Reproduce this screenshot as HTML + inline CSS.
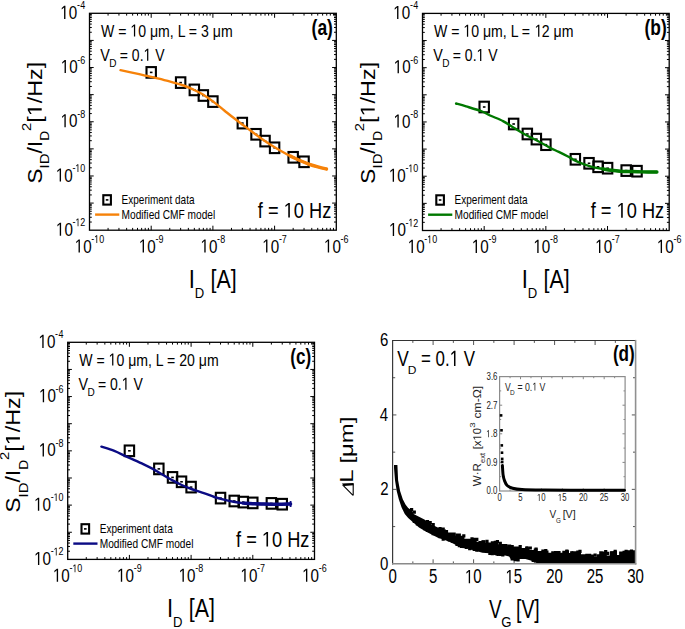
<!DOCTYPE html>
<html><head><meta charset="utf-8"><style>html,body{margin:0;padding:0;background:#fff;overflow:hidden}svg{display:block}</style></head>
<body>
<svg width="685" height="629" viewBox="0 0 685 629" font-family='"Liberation Sans", sans-serif'>
<rect width="685" height="629" fill="#fff"/>
<path d="M108.07 230.2v-2.3M108.07 13.3v2.3M118.94 230.2v-2.3M118.94 13.3v2.3M126.65 230.2v-2.3M126.65 13.3v2.3M132.63 230.2v-2.3M132.63 13.3v2.3M137.51 230.2v-2.3M137.51 13.3v2.3M141.64 230.2v-2.3M141.64 13.3v2.3M145.22 230.2v-2.3M145.22 13.3v2.3M148.38 230.2v-2.3M148.38 13.3v2.3M151.20 230.2v-4.5M151.20 13.3v4.5M169.77 230.2v-2.3M169.77 13.3v2.3M180.64 230.2v-2.3M180.64 13.3v2.3M188.35 230.2v-2.3M188.35 13.3v2.3M194.33 230.2v-2.3M194.33 13.3v2.3M199.21 230.2v-2.3M199.21 13.3v2.3M203.34 230.2v-2.3M203.34 13.3v2.3M206.92 230.2v-2.3M206.92 13.3v2.3M210.08 230.2v-2.3M210.08 13.3v2.3M212.90 230.2v-4.5M212.90 13.3v4.5M231.47 230.2v-2.3M231.47 13.3v2.3M242.34 230.2v-2.3M242.34 13.3v2.3M250.05 230.2v-2.3M250.05 13.3v2.3M256.03 230.2v-2.3M256.03 13.3v2.3M260.91 230.2v-2.3M260.91 13.3v2.3M265.04 230.2v-2.3M265.04 13.3v2.3M268.62 230.2v-2.3M268.62 13.3v2.3M271.78 230.2v-2.3M271.78 13.3v2.3M274.60 230.2v-4.5M274.60 13.3v4.5M293.17 230.2v-2.3M293.17 13.3v2.3M304.04 230.2v-2.3M304.04 13.3v2.3M311.75 230.2v-2.3M311.75 13.3v2.3M317.73 230.2v-2.3M317.73 13.3v2.3M322.61 230.2v-2.3M322.61 13.3v2.3M326.74 230.2v-2.3M326.74 13.3v2.3M330.32 230.2v-2.3M330.32 13.3v2.3M333.48 230.2v-2.3M333.48 13.3v2.3M89.5 222.04h2.3M336.3 222.04h-2.3M89.5 217.26h2.3M336.3 217.26h-2.3M89.5 213.88h2.3M336.3 213.88h-2.3M89.5 211.25h2.3M336.3 211.25h-2.3M89.5 209.10h2.3M336.3 209.10h-2.3M89.5 207.29h2.3M336.3 207.29h-2.3M89.5 205.71h2.3M336.3 205.71h-2.3M89.5 204.33h2.3M336.3 204.33h-2.3M89.5 203.09h4.2M336.3 203.09h-4.2M89.5 194.93h2.3M336.3 194.93h-2.3M89.5 190.15h2.3M336.3 190.15h-2.3M89.5 186.76h2.3M336.3 186.76h-2.3M89.5 184.14h2.3M336.3 184.14h-2.3M89.5 181.99h2.3M336.3 181.99h-2.3M89.5 180.17h2.3M336.3 180.17h-2.3M89.5 178.60h2.3M336.3 178.60h-2.3M89.5 177.22h2.3M336.3 177.22h-2.3M89.5 175.97h4.2M336.3 175.97h-4.2M89.5 167.81h2.3M336.3 167.81h-2.3M89.5 163.04h2.3M336.3 163.04h-2.3M89.5 159.65h2.3M336.3 159.65h-2.3M89.5 157.02h2.3M336.3 157.02h-2.3M89.5 154.88h2.3M336.3 154.88h-2.3M89.5 153.06h2.3M336.3 153.06h-2.3M89.5 151.49h2.3M336.3 151.49h-2.3M89.5 150.10h2.3M336.3 150.10h-2.3M89.5 148.86h4.2M336.3 148.86h-4.2M89.5 140.70h2.3M336.3 140.70h-2.3M89.5 135.93h2.3M336.3 135.93h-2.3M89.5 132.54h2.3M336.3 132.54h-2.3M89.5 129.91h2.3M336.3 129.91h-2.3M89.5 127.76h2.3M336.3 127.76h-2.3M89.5 125.95h2.3M336.3 125.95h-2.3M89.5 124.38h2.3M336.3 124.38h-2.3M89.5 122.99h2.3M336.3 122.99h-2.3M89.5 121.75h4.2M336.3 121.75h-4.2M89.5 113.59h2.3M336.3 113.59h-2.3M89.5 108.81h2.3M336.3 108.81h-2.3M89.5 105.43h2.3M336.3 105.43h-2.3M89.5 102.80h2.3M336.3 102.80h-2.3M89.5 100.65h2.3M336.3 100.65h-2.3M89.5 98.84h2.3M336.3 98.84h-2.3M89.5 97.26h2.3M336.3 97.26h-2.3M89.5 95.88h2.3M336.3 95.88h-2.3M89.5 94.64h4.2M336.3 94.64h-4.2M89.5 86.48h2.3M336.3 86.48h-2.3M89.5 81.70h2.3M336.3 81.70h-2.3M89.5 78.31h2.3M336.3 78.31h-2.3M89.5 75.69h2.3M336.3 75.69h-2.3M89.5 73.54h2.3M336.3 73.54h-2.3M89.5 71.72h2.3M336.3 71.72h-2.3M89.5 70.15h2.3M336.3 70.15h-2.3M89.5 68.77h2.3M336.3 68.77h-2.3M89.5 67.53h4.2M336.3 67.53h-4.2M89.5 59.36h2.3M336.3 59.36h-2.3M89.5 54.59h2.3M336.3 54.59h-2.3M89.5 51.20h2.3M336.3 51.20h-2.3M89.5 48.57h2.3M336.3 48.57h-2.3M89.5 46.43h2.3M336.3 46.43h-2.3M89.5 44.61h2.3M336.3 44.61h-2.3M89.5 43.04h2.3M336.3 43.04h-2.3M89.5 41.65h2.3M336.3 41.65h-2.3M89.5 40.41h4.2M336.3 40.41h-4.2M89.5 32.25h2.3M336.3 32.25h-2.3M89.5 27.48h2.3M336.3 27.48h-2.3M89.5 24.09h2.3M336.3 24.09h-2.3M89.5 21.46h2.3M336.3 21.46h-2.3M89.5 19.31h2.3M336.3 19.31h-2.3M89.5 17.50h2.3M336.3 17.50h-2.3M89.5 15.93h2.3M336.3 15.93h-2.3M89.5 14.54h2.3M336.3 14.54h-2.3" stroke="#000" stroke-width="1" fill="none"/>
<rect x="89.5" y="13.3" width="246.80" height="216.90" fill="none" stroke="#000" stroke-width="1.3"/>
<g transform="translate(60.26,18.90) scale(0.8000,1)"><text font-size="19"> 0</text><path transform="translate(0.00,0) scale(0.00928,-0.00928)" d="M515 0V1237L197 1010V1180L530 1409H696V0Z"/></g>
<g transform="translate(76.88,8.30) scale(0.8000,1)"><text font-size="11.2">-</text></g>
<g transform="translate(80.18,9.30) scale(0.8000,1)"><text font-size="11.2">4</text></g>
<g transform="translate(60.74,73.12) scale(0.8000,1)"><text font-size="19"> 0</text><path transform="translate(0.00,0) scale(0.00928,-0.00928)" d="M515 0V1237L197 1010V1180L530 1409H696V0Z"/></g>
<g transform="translate(77.36,62.52) scale(0.8000,1)"><text font-size="11.2">-</text></g>
<g transform="translate(80.34,63.52) scale(0.8000,1)"><text font-size="11.2">6</text></g>
<g transform="translate(60.58,127.35) scale(0.8000,1)"><text font-size="19"> 0</text><path transform="translate(0.00,0) scale(0.00928,-0.00928)" d="M515 0V1237L197 1010V1180L530 1409H696V0Z"/></g>
<g transform="translate(77.20,116.75) scale(0.8000,1)"><text font-size="11.2">-</text></g>
<g transform="translate(80.26,117.75) scale(0.8000,1)"><text font-size="11.2">8</text></g>
<g transform="translate(55.86,181.57) scale(0.8000,1)"><text font-size="19"> 0</text><path transform="translate(0.00,0) scale(0.00928,-0.00928)" d="M515 0V1237L197 1010V1180L530 1409H696V0Z"/></g>
<g transform="translate(72.48,170.97) scale(0.8000,1)"><text font-size="11.2">-</text></g>
<g transform="translate(75.30,171.97) scale(0.8000,1)"><text font-size="11.2"> 0</text><path transform="translate(0.00,0) scale(0.00547,-0.00547)" d="M515 0V1237L197 1010V1180L530 1409H696V0Z"/></g>
<g transform="translate(55.94,235.80) scale(0.8000,1)"><text font-size="19"> 0</text><path transform="translate(0.00,0) scale(0.00928,-0.00928)" d="M515 0V1237L197 1010V1180L530 1409H696V0Z"/></g>
<g transform="translate(72.56,225.20) scale(0.8000,1)"><text font-size="11.2">-</text></g>
<g transform="translate(75.38,226.20) scale(0.8000,1)"><text font-size="11.2"> 2</text><path transform="translate(0.00,0) scale(0.00547,-0.00547)" d="M515 0V1237L197 1010V1180L530 1409H696V0Z"/></g>
<g transform="translate(74.72,252.60) scale(0.8000,1)"><text font-size="19"> 0</text><path transform="translate(0.00,0) scale(0.00928,-0.00928)" d="M515 0V1237L197 1010V1180L530 1409H696V0Z"/></g>
<g transform="translate(91.34,242.00) scale(0.8000,1)"><text font-size="11.2">-</text></g>
<g transform="translate(94.16,243.00) scale(0.8000,1)"><text font-size="11.2"> 0</text><path transform="translate(0.00,0) scale(0.00547,-0.00547)" d="M515 0V1237L197 1010V1180L530 1409H696V0Z"/></g>
<g transform="translate(138.82,252.60) scale(0.8000,1)"><text font-size="19"> 0</text><path transform="translate(0.00,0) scale(0.00928,-0.00928)" d="M515 0V1237L197 1010V1180L530 1409H696V0Z"/></g>
<g transform="translate(155.44,242.00) scale(0.8000,1)"><text font-size="11.2">-</text></g>
<g transform="translate(158.50,243.00) scale(0.8000,1)"><text font-size="11.2">9</text></g>
<g transform="translate(200.48,252.60) scale(0.8000,1)"><text font-size="19"> 0</text><path transform="translate(0.00,0) scale(0.00928,-0.00928)" d="M515 0V1237L197 1010V1180L530 1409H696V0Z"/></g>
<g transform="translate(217.10,242.00) scale(0.8000,1)"><text font-size="11.2">-</text></g>
<g transform="translate(220.16,243.00) scale(0.8000,1)"><text font-size="11.2">8</text></g>
<g transform="translate(262.26,252.60) scale(0.8000,1)"><text font-size="19"> 0</text><path transform="translate(0.00,0) scale(0.00928,-0.00928)" d="M515 0V1237L197 1010V1180L530 1409H696V0Z"/></g>
<g transform="translate(278.88,242.00) scale(0.8000,1)"><text font-size="11.2">-</text></g>
<g transform="translate(281.86,243.00) scale(0.8000,1)"><text font-size="11.2">7</text></g>
<g transform="translate(323.96,252.60) scale(0.8000,1)"><text font-size="19"> 0</text><path transform="translate(0.00,0) scale(0.00928,-0.00928)" d="M515 0V1237L197 1010V1180L530 1409H696V0Z"/></g>
<g transform="translate(340.58,242.00) scale(0.8000,1)"><text font-size="11.2">-</text></g>
<g transform="translate(343.56,243.00) scale(0.8000,1)"><text font-size="11.2">6</text></g>
<g transform="translate(41.70,182.50) rotate(-90) scale(0.9627,0.8700) translate(-1.10,0)"><text font-size="23.3">S</text></g>
<g transform="translate(49.40,167.00) rotate(-90) scale(1.0750,0.8700) translate(-1.30,0)"><text font-size="13.9">ID</text></g>
<g transform="translate(41.70,153.60) rotate(-90) scale(0.9907,0.8700) translate(-0.00,0)"><text font-size="23.3">/I</text></g>
<g transform="translate(49.40,139.60) rotate(-90) scale(0.9880,0.8700) translate(-1.10,0)"><text font-size="13.9">D</text></g>
<g transform="translate(30.80,130.30) rotate(-90) scale(1.0469,0.8700) translate(-0.70,0)"><text font-size="14.0">2</text></g>
<g transform="translate(41.70,121.10) rotate(-90) scale(1.0035,0.8700) translate(-1.70,0)"><text font-size="23.3">[ /Hz]</text><path transform="translate(6.47,0) scale(0.01138,-0.01138)" d="M515 0V1237L197 1010V1180L530 1409H696V0Z"/></g>
<g transform="translate(188.86,287.90) scale(0.8500,1)"><text font-size="25.9">I</text></g>
<g transform="translate(194.77,297.70) scale(0.8571,1)"><text font-size="15.3">D</text></g>
<g transform="translate(210.51,287.90) scale(0.8256,1)"><text font-size="25.9">[A]</text></g>
<g transform="translate(101.02,36.60) scale(0.8100,1)"><text font-size="17.4">W =  0 μm, L = 3 μm</text><path transform="translate(36.25,0) scale(0.00850,-0.00850)" d="M515 0V1237L197 1010V1180L530 1409H696V0Z"/></g>
<g transform="translate(100.32,60.60) scale(0.8246,1)"><text font-size="17.4">V</text></g>
<g transform="translate(109.21,67.20) scale(0.9836,1)"><text font-size="10.2">D</text></g>
<g transform="translate(119.76,60.80) scale(0.8062,1)"><text font-size="17.4">= 0.  V</text><path transform="translate(29.51,0) scale(0.00850,-0.00850)" d="M515 0V1237L197 1010V1180L530 1409H696V0Z"/></g>
<g transform="translate(311.58,35.20) scale(0.8243,1)"><text font-size="21.2" font-weight="bold">(a)</text></g>
<g transform="translate(257.84,217.60) scale(0.8556,1)"><text font-size="21.3">f =  0 Hz</text><path transform="translate(30.19,0) scale(0.01040,-0.01040)" d="M515 0V1237L197 1010V1180L530 1409H696V0Z"/></g>
<rect x="103.30" y="195.20" width="7.6" height="9.4" fill="none" stroke="#000" stroke-width="2.1"/>
<rect x="105.80" y="199.10" width="2.6" height="1.6" fill="#000"/>
<g transform="translate(121.56,203.90) scale(0.8356,1)"><text font-size="12.0">Experiment data</text></g>
<line x1="95.10" y1="214.60" x2="119.30" y2="214.60" stroke="#F68209" stroke-width="2.4"/>
<g transform="translate(121.55,218.50) scale(0.8466,1)"><text font-size="12.0">Modified CMF model</text></g>
<rect x="146.50" y="67.10" width="9.4" height="10.6" fill="none" stroke="#000" stroke-width="2.1"/>
<rect x="149.90" y="71.60" width="2.6" height="1.6" fill="#000"/>
<rect x="175.94" y="77.30" width="9.4" height="10.6" fill="none" stroke="#000" stroke-width="2.1"/>
<rect x="179.34" y="81.80" width="2.6" height="1.6" fill="#000"/>
<rect x="189.63" y="84.60" width="9.4" height="10.6" fill="none" stroke="#000" stroke-width="2.1"/>
<rect x="193.03" y="89.10" width="2.6" height="1.6" fill="#000"/>
<rect x="198.64" y="90.20" width="9.4" height="10.6" fill="none" stroke="#000" stroke-width="2.1"/>
<rect x="202.04" y="94.70" width="2.6" height="1.6" fill="#000"/>
<rect x="208.20" y="96.30" width="9.4" height="10.6" fill="none" stroke="#000" stroke-width="2.1"/>
<rect x="211.60" y="100.80" width="2.6" height="1.6" fill="#000"/>
<rect x="237.64" y="117.80" width="9.4" height="10.6" fill="none" stroke="#000" stroke-width="2.1"/>
<rect x="241.04" y="122.30" width="2.6" height="1.6" fill="#000"/>
<rect x="251.33" y="129.00" width="9.4" height="10.6" fill="none" stroke="#000" stroke-width="2.1"/>
<rect x="254.73" y="133.50" width="2.6" height="1.6" fill="#000"/>
<rect x="260.34" y="135.80" width="9.4" height="10.6" fill="none" stroke="#000" stroke-width="2.1"/>
<rect x="263.74" y="140.30" width="2.6" height="1.6" fill="#000"/>
<rect x="269.90" y="142.50" width="9.4" height="10.6" fill="none" stroke="#000" stroke-width="2.1"/>
<rect x="273.30" y="147.00" width="2.6" height="1.6" fill="#000"/>
<rect x="288.47" y="152.00" width="9.4" height="10.6" fill="none" stroke="#000" stroke-width="2.1"/>
<rect x="291.87" y="156.50" width="2.6" height="1.6" fill="#000"/>
<rect x="299.34" y="156.50" width="9.4" height="10.6" fill="none" stroke="#000" stroke-width="2.1"/>
<rect x="302.74" y="161.00" width="2.6" height="1.6" fill="#000"/>
<path d="M120.50 70.20 C122.02 70.52 125.65 71.25 129.60 72.10 C133.55 72.95 139.33 74.20 144.20 75.30 C149.07 76.40 153.93 77.48 158.80 78.70 C163.67 79.92 169.27 81.47 173.40 82.60 C177.53 83.73 180.43 84.40 183.60 85.50 C186.77 86.60 189.23 87.73 192.40 89.20 C195.57 90.67 198.92 92.07 202.60 94.30 C206.28 96.53 210.93 99.95 214.50 102.60 C218.07 105.25 220.83 107.67 224.00 110.20 C227.17 112.73 230.33 115.33 233.50 117.80 C236.67 120.27 239.85 122.63 243.00 125.00 C246.15 127.37 249.23 129.67 252.40 132.00 C255.57 134.33 258.83 136.78 262.00 139.00 C265.17 141.22 268.23 143.30 271.40 145.30 C274.57 147.30 277.83 149.20 281.00 151.00 C284.17 152.80 287.25 154.52 290.40 156.10 C293.55 157.68 296.73 159.13 299.90 160.50 C303.07 161.87 306.23 163.20 309.40 164.30 C312.57 165.40 316.05 166.32 318.90 167.10 C321.75 167.88 325.23 168.68 326.50 169.00" fill="none" stroke="#F68209" stroke-width="2.4" stroke-linejoin="round" stroke-linecap="round"/>
<path d="M290.40 156.10 C291.98 156.83 296.73 159.13 299.90 160.50 C303.07 161.87 306.23 163.20 309.40 164.30 C312.57 165.40 316.05 166.32 318.90 167.10 C321.75 167.88 325.23 168.68 326.50 169.00" fill="none" stroke="#F68209" stroke-width="3.4" stroke-linejoin="round" stroke-linecap="round"/>
<path d="M441.07 230.5v-2.3M441.07 13.4v2.3M451.93 230.5v-2.3M451.93 13.4v2.3M459.63 230.5v-2.3M459.63 13.4v2.3M465.61 230.5v-2.3M465.61 13.4v2.3M470.49 230.5v-2.3M470.49 13.4v2.3M474.62 230.5v-2.3M474.62 13.4v2.3M478.20 230.5v-2.3M478.20 13.4v2.3M481.35 230.5v-2.3M481.35 13.4v2.3M484.18 230.5v-4.5M484.18 13.4v4.5M502.74 230.5v-2.3M502.74 13.4v2.3M513.60 230.5v-2.3M513.60 13.4v2.3M521.31 230.5v-2.3M521.31 13.4v2.3M527.28 230.5v-2.3M527.28 13.4v2.3M532.17 230.5v-2.3M532.17 13.4v2.3M536.30 230.5v-2.3M536.30 13.4v2.3M539.87 230.5v-2.3M539.87 13.4v2.3M543.03 230.5v-2.3M543.03 13.4v2.3M545.85 230.5v-4.5M545.85 13.4v4.5M564.42 230.5v-2.3M564.42 13.4v2.3M575.28 230.5v-2.3M575.28 13.4v2.3M582.98 230.5v-2.3M582.98 13.4v2.3M588.96 230.5v-2.3M588.96 13.4v2.3M593.84 230.5v-2.3M593.84 13.4v2.3M597.97 230.5v-2.3M597.97 13.4v2.3M601.55 230.5v-2.3M601.55 13.4v2.3M604.70 230.5v-2.3M604.70 13.4v2.3M607.53 230.5v-4.5M607.53 13.4v4.5M626.09 230.5v-2.3M626.09 13.4v2.3M636.95 230.5v-2.3M636.95 13.4v2.3M644.66 230.5v-2.3M644.66 13.4v2.3M650.63 230.5v-2.3M650.63 13.4v2.3M655.52 230.5v-2.3M655.52 13.4v2.3M659.65 230.5v-2.3M659.65 13.4v2.3M663.22 230.5v-2.3M663.22 13.4v2.3M666.38 230.5v-2.3M666.38 13.4v2.3M422.5 222.33h2.3M669.2 222.33h-2.3M422.5 217.55h2.3M669.2 217.55h-2.3M422.5 214.16h2.3M669.2 214.16h-2.3M422.5 211.53h2.3M669.2 211.53h-2.3M422.5 209.38h2.3M669.2 209.38h-2.3M422.5 207.57h2.3M669.2 207.57h-2.3M422.5 205.99h2.3M669.2 205.99h-2.3M422.5 204.60h2.3M669.2 204.60h-2.3M422.5 203.36h4.2M669.2 203.36h-4.2M422.5 195.19h2.3M669.2 195.19h-2.3M422.5 190.41h2.3M669.2 190.41h-2.3M422.5 187.02h2.3M669.2 187.02h-2.3M422.5 184.39h2.3M669.2 184.39h-2.3M422.5 182.25h2.3M669.2 182.25h-2.3M422.5 180.43h2.3M669.2 180.43h-2.3M422.5 178.85h2.3M669.2 178.85h-2.3M422.5 177.47h2.3M669.2 177.47h-2.3M422.5 176.22h4.2M669.2 176.22h-4.2M422.5 168.06h2.3M669.2 168.06h-2.3M422.5 163.28h2.3M669.2 163.28h-2.3M422.5 159.89h2.3M669.2 159.89h-2.3M422.5 157.26h2.3M669.2 157.26h-2.3M422.5 155.11h2.3M669.2 155.11h-2.3M422.5 153.29h2.3M669.2 153.29h-2.3M422.5 151.72h2.3M669.2 151.72h-2.3M422.5 150.33h2.3M669.2 150.33h-2.3M422.5 149.09h4.2M669.2 149.09h-4.2M422.5 140.92h2.3M669.2 140.92h-2.3M422.5 136.14h2.3M669.2 136.14h-2.3M422.5 132.75h2.3M669.2 132.75h-2.3M422.5 130.12h2.3M669.2 130.12h-2.3M422.5 127.97h2.3M669.2 127.97h-2.3M422.5 126.15h2.3M669.2 126.15h-2.3M422.5 124.58h2.3M669.2 124.58h-2.3M422.5 123.19h2.3M669.2 123.19h-2.3M422.5 121.95h4.2M669.2 121.95h-4.2M422.5 113.78h2.3M669.2 113.78h-2.3M422.5 109.00h2.3M669.2 109.00h-2.3M422.5 105.61h2.3M669.2 105.61h-2.3M422.5 102.98h2.3M669.2 102.98h-2.3M422.5 100.83h2.3M669.2 100.83h-2.3M422.5 99.02h2.3M669.2 99.02h-2.3M422.5 97.44h2.3M669.2 97.44h-2.3M422.5 96.05h2.3M669.2 96.05h-2.3M422.5 94.81h4.2M669.2 94.81h-4.2M422.5 86.64h2.3M669.2 86.64h-2.3M422.5 81.86h2.3M669.2 81.86h-2.3M422.5 78.47h2.3M669.2 78.47h-2.3M422.5 75.84h2.3M669.2 75.84h-2.3M422.5 73.70h2.3M669.2 73.70h-2.3M422.5 71.88h2.3M669.2 71.88h-2.3M422.5 70.30h2.3M669.2 70.30h-2.3M422.5 68.92h2.3M669.2 68.92h-2.3M422.5 67.68h4.2M669.2 67.68h-4.2M422.5 59.51h2.3M669.2 59.51h-2.3M422.5 54.73h2.3M669.2 54.73h-2.3M422.5 51.34h2.3M669.2 51.34h-2.3M422.5 48.71h2.3M669.2 48.71h-2.3M422.5 46.56h2.3M669.2 46.56h-2.3M422.5 44.74h2.3M669.2 44.74h-2.3M422.5 43.17h2.3M669.2 43.17h-2.3M422.5 41.78h2.3M669.2 41.78h-2.3M422.5 40.54h4.2M669.2 40.54h-4.2M422.5 32.37h2.3M669.2 32.37h-2.3M422.5 27.59h2.3M669.2 27.59h-2.3M422.5 24.20h2.3M669.2 24.20h-2.3M422.5 21.57h2.3M669.2 21.57h-2.3M422.5 19.42h2.3M669.2 19.42h-2.3M422.5 17.60h2.3M669.2 17.60h-2.3M422.5 16.03h2.3M669.2 16.03h-2.3M422.5 14.64h2.3M669.2 14.64h-2.3" stroke="#000" stroke-width="1" fill="none"/>
<rect x="422.5" y="13.4" width="246.70" height="217.10" fill="none" stroke="#000" stroke-width="1.3"/>
<g transform="translate(393.26,19.00) scale(0.8000,1)"><text font-size="19"> 0</text><path transform="translate(0.00,0) scale(0.00928,-0.00928)" d="M515 0V1237L197 1010V1180L530 1409H696V0Z"/></g>
<g transform="translate(409.88,8.40) scale(0.8000,1)"><text font-size="11.2">-</text></g>
<g transform="translate(413.18,9.40) scale(0.8000,1)"><text font-size="11.2">4</text></g>
<g transform="translate(393.74,73.27) scale(0.8000,1)"><text font-size="19"> 0</text><path transform="translate(0.00,0) scale(0.00928,-0.00928)" d="M515 0V1237L197 1010V1180L530 1409H696V0Z"/></g>
<g transform="translate(410.36,62.67) scale(0.8000,1)"><text font-size="11.2">-</text></g>
<g transform="translate(413.34,63.67) scale(0.8000,1)"><text font-size="11.2">6</text></g>
<g transform="translate(393.58,127.55) scale(0.8000,1)"><text font-size="19"> 0</text><path transform="translate(0.00,0) scale(0.00928,-0.00928)" d="M515 0V1237L197 1010V1180L530 1409H696V0Z"/></g>
<g transform="translate(410.20,116.95) scale(0.8000,1)"><text font-size="11.2">-</text></g>
<g transform="translate(413.26,117.95) scale(0.8000,1)"><text font-size="11.2">8</text></g>
<g transform="translate(388.86,181.82) scale(0.8000,1)"><text font-size="19"> 0</text><path transform="translate(0.00,0) scale(0.00928,-0.00928)" d="M515 0V1237L197 1010V1180L530 1409H696V0Z"/></g>
<g transform="translate(405.48,171.22) scale(0.8000,1)"><text font-size="11.2">-</text></g>
<g transform="translate(408.30,172.22) scale(0.8000,1)"><text font-size="11.2"> 0</text><path transform="translate(0.00,0) scale(0.00547,-0.00547)" d="M515 0V1237L197 1010V1180L530 1409H696V0Z"/></g>
<g transform="translate(388.94,236.10) scale(0.8000,1)"><text font-size="19"> 0</text><path transform="translate(0.00,0) scale(0.00928,-0.00928)" d="M515 0V1237L197 1010V1180L530 1409H696V0Z"/></g>
<g transform="translate(405.56,225.50) scale(0.8000,1)"><text font-size="11.2">-</text></g>
<g transform="translate(408.38,226.50) scale(0.8000,1)"><text font-size="11.2"> 2</text><path transform="translate(0.00,0) scale(0.00547,-0.00547)" d="M515 0V1237L197 1010V1180L530 1409H696V0Z"/></g>
<g transform="translate(407.72,252.90) scale(0.8000,1)"><text font-size="19"> 0</text><path transform="translate(0.00,0) scale(0.00928,-0.00928)" d="M515 0V1237L197 1010V1180L530 1409H696V0Z"/></g>
<g transform="translate(424.34,242.30) scale(0.8000,1)"><text font-size="11.2">-</text></g>
<g transform="translate(427.16,243.30) scale(0.8000,1)"><text font-size="11.2"> 0</text><path transform="translate(0.00,0) scale(0.00547,-0.00547)" d="M515 0V1237L197 1010V1180L530 1409H696V0Z"/></g>
<g transform="translate(471.80,252.90) scale(0.8000,1)"><text font-size="19"> 0</text><path transform="translate(0.00,0) scale(0.00928,-0.00928)" d="M515 0V1237L197 1010V1180L530 1409H696V0Z"/></g>
<g transform="translate(488.42,242.30) scale(0.8000,1)"><text font-size="11.2">-</text></g>
<g transform="translate(491.48,243.30) scale(0.8000,1)"><text font-size="11.2">9</text></g>
<g transform="translate(533.43,252.90) scale(0.8000,1)"><text font-size="19"> 0</text><path transform="translate(0.00,0) scale(0.00928,-0.00928)" d="M515 0V1237L197 1010V1180L530 1409H696V0Z"/></g>
<g transform="translate(550.05,242.30) scale(0.8000,1)"><text font-size="11.2">-</text></g>
<g transform="translate(553.11,243.30) scale(0.8000,1)"><text font-size="11.2">8</text></g>
<g transform="translate(595.19,252.90) scale(0.8000,1)"><text font-size="19"> 0</text><path transform="translate(0.00,0) scale(0.00928,-0.00928)" d="M515 0V1237L197 1010V1180L530 1409H696V0Z"/></g>
<g transform="translate(611.81,242.30) scale(0.8000,1)"><text font-size="11.2">-</text></g>
<g transform="translate(614.79,243.30) scale(0.8000,1)"><text font-size="11.2">7</text></g>
<g transform="translate(656.86,252.90) scale(0.8000,1)"><text font-size="19"> 0</text><path transform="translate(0.00,0) scale(0.00928,-0.00928)" d="M515 0V1237L197 1010V1180L530 1409H696V0Z"/></g>
<g transform="translate(673.48,242.30) scale(0.8000,1)"><text font-size="11.2">-</text></g>
<g transform="translate(676.46,243.30) scale(0.8000,1)"><text font-size="11.2">6</text></g>
<g transform="translate(374.70,182.60) rotate(-90) scale(0.9627,0.8700) translate(-1.10,0)"><text font-size="23.3">S</text></g>
<g transform="translate(382.40,167.10) rotate(-90) scale(1.0750,0.8700) translate(-1.30,0)"><text font-size="13.9">ID</text></g>
<g transform="translate(374.70,153.70) rotate(-90) scale(0.9907,0.8700) translate(-0.00,0)"><text font-size="23.3">/I</text></g>
<g transform="translate(382.40,139.70) rotate(-90) scale(0.9880,0.8700) translate(-1.10,0)"><text font-size="13.9">D</text></g>
<g transform="translate(363.80,130.40) rotate(-90) scale(1.0469,0.8700) translate(-0.70,0)"><text font-size="14.0">2</text></g>
<g transform="translate(374.70,121.20) rotate(-90) scale(1.0035,0.8700) translate(-1.70,0)"><text font-size="23.3">[ /Hz]</text><path transform="translate(6.47,0) scale(0.01138,-0.01138)" d="M515 0V1237L197 1010V1180L530 1409H696V0Z"/></g>
<g transform="translate(521.86,288.00) scale(0.8500,1)"><text font-size="25.9">I</text></g>
<g transform="translate(527.77,297.80) scale(0.8571,1)"><text font-size="15.3">D</text></g>
<g transform="translate(543.51,288.00) scale(0.8256,1)"><text font-size="25.9">[A]</text></g>
<g transform="translate(434.02,36.70) scale(0.8100,1)"><text font-size="17.4">W =  0 μm, L =  2 μm</text><path transform="translate(36.25,0) scale(0.00850,-0.00850)" d="M515 0V1237L197 1010V1180L530 1409H696V0Z"/><path transform="translate(124.14,0) scale(0.00850,-0.00850)" d="M515 0V1237L197 1010V1180L530 1409H696V0Z"/></g>
<g transform="translate(433.32,60.70) scale(0.8246,1)"><text font-size="17.4">V</text></g>
<g transform="translate(442.21,67.30) scale(0.9836,1)"><text font-size="10.2">D</text></g>
<g transform="translate(452.76,60.90) scale(0.8062,1)"><text font-size="17.4">= 0.  V</text><path transform="translate(29.51,0) scale(0.00850,-0.00850)" d="M515 0V1237L197 1010V1180L530 1409H696V0Z"/></g>
<g transform="translate(644.48,35.30) scale(0.8200,1)"><text font-size="21.2" font-weight="bold">(b)</text></g>
<g transform="translate(590.74,217.70) scale(0.8556,1)"><text font-size="21.3">f =  0 Hz</text><path transform="translate(30.19,0) scale(0.01040,-0.01040)" d="M515 0V1237L197 1010V1180L530 1409H696V0Z"/></g>
<rect x="436.30" y="195.30" width="7.6" height="9.4" fill="none" stroke="#000" stroke-width="2.1"/>
<rect x="438.80" y="199.20" width="2.6" height="1.6" fill="#000"/>
<g transform="translate(454.56,204.00) scale(0.8356,1)"><text font-size="12.0">Experiment data</text></g>
<line x1="428.10" y1="214.70" x2="452.30" y2="214.70" stroke="#007800" stroke-width="2.4"/>
<g transform="translate(454.55,218.60) scale(0.8466,1)"><text font-size="12.0">Modified CMF model</text></g>
<rect x="479.50" y="101.70" width="9.4" height="10.6" fill="none" stroke="#000" stroke-width="2.1"/>
<rect x="482.90" y="106.20" width="2.6" height="1.6" fill="#000"/>
<rect x="508.94" y="118.70" width="9.4" height="10.6" fill="none" stroke="#000" stroke-width="2.1"/>
<rect x="512.34" y="123.20" width="2.6" height="1.6" fill="#000"/>
<rect x="522.63" y="128.70" width="9.4" height="10.6" fill="none" stroke="#000" stroke-width="2.1"/>
<rect x="526.03" y="133.20" width="2.6" height="1.6" fill="#000"/>
<rect x="531.64" y="133.80" width="9.4" height="10.6" fill="none" stroke="#000" stroke-width="2.1"/>
<rect x="535.04" y="138.30" width="2.6" height="1.6" fill="#000"/>
<rect x="541.20" y="139.40" width="9.4" height="10.6" fill="none" stroke="#000" stroke-width="2.1"/>
<rect x="544.60" y="143.90" width="2.6" height="1.6" fill="#000"/>
<rect x="570.64" y="154.00" width="9.4" height="10.6" fill="none" stroke="#000" stroke-width="2.1"/>
<rect x="574.04" y="158.50" width="2.6" height="1.6" fill="#000"/>
<rect x="584.33" y="158.00" width="9.4" height="10.6" fill="none" stroke="#000" stroke-width="2.1"/>
<rect x="587.73" y="162.50" width="2.6" height="1.6" fill="#000"/>
<rect x="593.34" y="161.50" width="9.4" height="10.6" fill="none" stroke="#000" stroke-width="2.1"/>
<rect x="596.74" y="166.00" width="2.6" height="1.6" fill="#000"/>
<rect x="602.90" y="162.90" width="9.4" height="10.6" fill="none" stroke="#000" stroke-width="2.1"/>
<rect x="606.30" y="167.40" width="2.6" height="1.6" fill="#000"/>
<rect x="621.47" y="165.30" width="9.4" height="10.6" fill="none" stroke="#000" stroke-width="2.1"/>
<rect x="624.87" y="169.80" width="2.6" height="1.6" fill="#000"/>
<rect x="632.34" y="165.90" width="9.4" height="10.6" fill="none" stroke="#000" stroke-width="2.1"/>
<rect x="635.74" y="170.40" width="2.6" height="1.6" fill="#000"/>
<path d="M456.10 103.50 C457.77 103.98 461.77 105.07 466.10 106.40 C470.43 107.73 478.10 109.98 482.10 111.50 C486.10 113.02 486.62 113.90 490.10 115.50 C493.58 117.10 498.98 119.02 503.00 121.10 C507.02 123.18 510.45 125.72 514.20 128.00 C517.95 130.28 521.48 132.60 525.50 134.80 C529.52 137.00 534.28 139.07 538.30 141.20 C542.32 143.33 546.18 145.82 549.60 147.60 C553.02 149.38 555.82 150.45 558.80 151.90 C561.78 153.35 564.58 154.75 567.50 156.30 C570.42 157.85 573.38 159.80 576.30 161.20 C579.22 162.60 582.08 163.68 585.00 164.70 C587.92 165.72 590.87 166.60 593.80 167.30 C596.73 168.00 599.68 168.40 602.60 168.90 C605.52 169.40 608.38 169.92 611.30 170.30 C614.22 170.68 617.18 171.00 620.10 171.20 C623.02 171.40 625.88 171.42 628.80 171.50 C631.72 171.58 634.38 171.62 637.60 171.70 C640.82 171.78 644.88 171.95 648.10 172.00 C651.32 172.05 655.43 172.00 656.90 172.00" fill="none" stroke="#007800" stroke-width="2.4" stroke-linejoin="round" stroke-linecap="round"/>
<path d="M602.60 168.90 C604.05 169.13 608.38 169.92 611.30 170.30 C614.22 170.68 617.18 171.00 620.10 171.20 C623.02 171.40 625.88 171.42 628.80 171.50 C631.72 171.58 634.38 171.62 637.60 171.70 C640.82 171.78 644.88 171.95 648.10 172.00 C651.32 172.05 655.43 172.00 656.90 172.00" fill="none" stroke="#007800" stroke-width="3.4" stroke-linejoin="round" stroke-linecap="round"/>
<path d="M86.27 559.4v-2.3M86.27 342.3v2.3M97.14 559.4v-2.3M97.14 342.3v2.3M104.85 559.4v-2.3M104.85 342.3v2.3M110.83 559.4v-2.3M110.83 342.3v2.3M115.71 559.4v-2.3M115.71 342.3v2.3M119.84 559.4v-2.3M119.84 342.3v2.3M123.42 559.4v-2.3M123.42 342.3v2.3M126.58 559.4v-2.3M126.58 342.3v2.3M129.40 559.4v-4.5M129.40 342.3v4.5M147.97 559.4v-2.3M147.97 342.3v2.3M158.84 559.4v-2.3M158.84 342.3v2.3M166.55 559.4v-2.3M166.55 342.3v2.3M172.53 559.4v-2.3M172.53 342.3v2.3M177.41 559.4v-2.3M177.41 342.3v2.3M181.54 559.4v-2.3M181.54 342.3v2.3M185.12 559.4v-2.3M185.12 342.3v2.3M188.28 559.4v-2.3M188.28 342.3v2.3M191.10 559.4v-4.5M191.10 342.3v4.5M209.67 559.4v-2.3M209.67 342.3v2.3M220.54 559.4v-2.3M220.54 342.3v2.3M228.25 559.4v-2.3M228.25 342.3v2.3M234.23 559.4v-2.3M234.23 342.3v2.3M239.11 559.4v-2.3M239.11 342.3v2.3M243.24 559.4v-2.3M243.24 342.3v2.3M246.82 559.4v-2.3M246.82 342.3v2.3M249.98 559.4v-2.3M249.98 342.3v2.3M252.80 559.4v-4.5M252.80 342.3v4.5M271.37 559.4v-2.3M271.37 342.3v2.3M282.24 559.4v-2.3M282.24 342.3v2.3M289.95 559.4v-2.3M289.95 342.3v2.3M295.93 559.4v-2.3M295.93 342.3v2.3M300.81 559.4v-2.3M300.81 342.3v2.3M304.94 559.4v-2.3M304.94 342.3v2.3M308.52 559.4v-2.3M308.52 342.3v2.3M311.68 559.4v-2.3M311.68 342.3v2.3M67.7 551.23h2.3M314.5 551.23h-2.3M67.7 546.45h2.3M314.5 546.45h-2.3M67.7 543.06h2.3M314.5 543.06h-2.3M67.7 540.43h2.3M314.5 540.43h-2.3M67.7 538.28h2.3M314.5 538.28h-2.3M67.7 536.47h2.3M314.5 536.47h-2.3M67.7 534.89h2.3M314.5 534.89h-2.3M67.7 533.50h2.3M314.5 533.50h-2.3M67.7 532.26h4.2M314.5 532.26h-4.2M67.7 524.09h2.3M314.5 524.09h-2.3M67.7 519.31h2.3M314.5 519.31h-2.3M67.7 515.92h2.3M314.5 515.92h-2.3M67.7 513.29h2.3M314.5 513.29h-2.3M67.7 511.15h2.3M314.5 511.15h-2.3M67.7 509.33h2.3M314.5 509.33h-2.3M67.7 507.75h2.3M314.5 507.75h-2.3M67.7 506.37h2.3M314.5 506.37h-2.3M67.7 505.12h4.2M314.5 505.12h-4.2M67.7 496.96h2.3M314.5 496.96h-2.3M67.7 492.18h2.3M314.5 492.18h-2.3M67.7 488.79h2.3M314.5 488.79h-2.3M67.7 486.16h2.3M314.5 486.16h-2.3M67.7 484.01h2.3M314.5 484.01h-2.3M67.7 482.19h2.3M314.5 482.19h-2.3M67.7 480.62h2.3M314.5 480.62h-2.3M67.7 479.23h2.3M314.5 479.23h-2.3M67.7 477.99h4.2M314.5 477.99h-4.2M67.7 469.82h2.3M314.5 469.82h-2.3M67.7 465.04h2.3M314.5 465.04h-2.3M67.7 461.65h2.3M314.5 461.65h-2.3M67.7 459.02h2.3M314.5 459.02h-2.3M67.7 456.87h2.3M314.5 456.87h-2.3M67.7 455.05h2.3M314.5 455.05h-2.3M67.7 453.48h2.3M314.5 453.48h-2.3M67.7 452.09h2.3M314.5 452.09h-2.3M67.7 450.85h4.2M314.5 450.85h-4.2M67.7 442.68h2.3M314.5 442.68h-2.3M67.7 437.90h2.3M314.5 437.90h-2.3M67.7 434.51h2.3M314.5 434.51h-2.3M67.7 431.88h2.3M314.5 431.88h-2.3M67.7 429.73h2.3M314.5 429.73h-2.3M67.7 427.92h2.3M314.5 427.92h-2.3M67.7 426.34h2.3M314.5 426.34h-2.3M67.7 424.95h2.3M314.5 424.95h-2.3M67.7 423.71h4.2M314.5 423.71h-4.2M67.7 415.54h2.3M314.5 415.54h-2.3M67.7 410.76h2.3M314.5 410.76h-2.3M67.7 407.37h2.3M314.5 407.37h-2.3M67.7 404.74h2.3M314.5 404.74h-2.3M67.7 402.60h2.3M314.5 402.60h-2.3M67.7 400.78h2.3M314.5 400.78h-2.3M67.7 399.20h2.3M314.5 399.20h-2.3M67.7 397.82h2.3M314.5 397.82h-2.3M67.7 396.57h4.2M314.5 396.57h-4.2M67.7 388.41h2.3M314.5 388.41h-2.3M67.7 383.63h2.3M314.5 383.63h-2.3M67.7 380.24h2.3M314.5 380.24h-2.3M67.7 377.61h2.3M314.5 377.61h-2.3M67.7 375.46h2.3M314.5 375.46h-2.3M67.7 373.64h2.3M314.5 373.64h-2.3M67.7 372.07h2.3M314.5 372.07h-2.3M67.7 370.68h2.3M314.5 370.68h-2.3M67.7 369.44h4.2M314.5 369.44h-4.2M67.7 361.27h2.3M314.5 361.27h-2.3M67.7 356.49h2.3M314.5 356.49h-2.3M67.7 353.10h2.3M314.5 353.10h-2.3M67.7 350.47h2.3M314.5 350.47h-2.3M67.7 348.32h2.3M314.5 348.32h-2.3M67.7 346.50h2.3M314.5 346.50h-2.3M67.7 344.93h2.3M314.5 344.93h-2.3M67.7 343.54h2.3M314.5 343.54h-2.3" stroke="#000" stroke-width="1" fill="none"/>
<rect x="67.7" y="342.3" width="246.80" height="217.10" fill="none" stroke="#000" stroke-width="1.3"/>
<g transform="translate(38.46,347.90) scale(0.8000,1)"><text font-size="19"> 0</text><path transform="translate(0.00,0) scale(0.00928,-0.00928)" d="M515 0V1237L197 1010V1180L530 1409H696V0Z"/></g>
<g transform="translate(55.08,337.30) scale(0.8000,1)"><text font-size="11.2">-</text></g>
<g transform="translate(58.38,338.30) scale(0.8000,1)"><text font-size="11.2">4</text></g>
<g transform="translate(38.94,402.18) scale(0.8000,1)"><text font-size="19"> 0</text><path transform="translate(0.00,0) scale(0.00928,-0.00928)" d="M515 0V1237L197 1010V1180L530 1409H696V0Z"/></g>
<g transform="translate(55.56,391.57) scale(0.8000,1)"><text font-size="11.2">-</text></g>
<g transform="translate(58.54,392.57) scale(0.8000,1)"><text font-size="11.2">6</text></g>
<g transform="translate(38.78,456.45) scale(0.8000,1)"><text font-size="19"> 0</text><path transform="translate(0.00,0) scale(0.00928,-0.00928)" d="M515 0V1237L197 1010V1180L530 1409H696V0Z"/></g>
<g transform="translate(55.40,445.85) scale(0.8000,1)"><text font-size="11.2">-</text></g>
<g transform="translate(58.46,446.85) scale(0.8000,1)"><text font-size="11.2">8</text></g>
<g transform="translate(34.06,510.73) scale(0.8000,1)"><text font-size="19"> 0</text><path transform="translate(0.00,0) scale(0.00928,-0.00928)" d="M515 0V1237L197 1010V1180L530 1409H696V0Z"/></g>
<g transform="translate(50.68,500.12) scale(0.8000,1)"><text font-size="11.2">-</text></g>
<g transform="translate(53.50,501.12) scale(0.8000,1)"><text font-size="11.2"> 0</text><path transform="translate(0.00,0) scale(0.00547,-0.00547)" d="M515 0V1237L197 1010V1180L530 1409H696V0Z"/></g>
<g transform="translate(34.14,565.00) scale(0.8000,1)"><text font-size="19"> 0</text><path transform="translate(0.00,0) scale(0.00928,-0.00928)" d="M515 0V1237L197 1010V1180L530 1409H696V0Z"/></g>
<g transform="translate(50.76,554.40) scale(0.8000,1)"><text font-size="11.2">-</text></g>
<g transform="translate(53.58,555.40) scale(0.8000,1)"><text font-size="11.2"> 2</text><path transform="translate(0.00,0) scale(0.00547,-0.00547)" d="M515 0V1237L197 1010V1180L530 1409H696V0Z"/></g>
<g transform="translate(52.92,581.80) scale(0.8000,1)"><text font-size="19"> 0</text><path transform="translate(0.00,0) scale(0.00928,-0.00928)" d="M515 0V1237L197 1010V1180L530 1409H696V0Z"/></g>
<g transform="translate(69.54,571.20) scale(0.8000,1)"><text font-size="11.2">-</text></g>
<g transform="translate(72.36,572.20) scale(0.8000,1)"><text font-size="11.2"> 0</text><path transform="translate(0.00,0) scale(0.00547,-0.00547)" d="M515 0V1237L197 1010V1180L530 1409H696V0Z"/></g>
<g transform="translate(117.02,581.80) scale(0.8000,1)"><text font-size="19"> 0</text><path transform="translate(0.00,0) scale(0.00928,-0.00928)" d="M515 0V1237L197 1010V1180L530 1409H696V0Z"/></g>
<g transform="translate(133.64,571.20) scale(0.8000,1)"><text font-size="11.2">-</text></g>
<g transform="translate(136.70,572.20) scale(0.8000,1)"><text font-size="11.2">9</text></g>
<g transform="translate(178.68,581.80) scale(0.8000,1)"><text font-size="19"> 0</text><path transform="translate(0.00,0) scale(0.00928,-0.00928)" d="M515 0V1237L197 1010V1180L530 1409H696V0Z"/></g>
<g transform="translate(195.30,571.20) scale(0.8000,1)"><text font-size="11.2">-</text></g>
<g transform="translate(198.36,572.20) scale(0.8000,1)"><text font-size="11.2">8</text></g>
<g transform="translate(240.46,581.80) scale(0.8000,1)"><text font-size="19"> 0</text><path transform="translate(0.00,0) scale(0.00928,-0.00928)" d="M515 0V1237L197 1010V1180L530 1409H696V0Z"/></g>
<g transform="translate(257.08,571.20) scale(0.8000,1)"><text font-size="11.2">-</text></g>
<g transform="translate(260.06,572.20) scale(0.8000,1)"><text font-size="11.2">7</text></g>
<g transform="translate(302.16,581.80) scale(0.8000,1)"><text font-size="19"> 0</text><path transform="translate(0.00,0) scale(0.00928,-0.00928)" d="M515 0V1237L197 1010V1180L530 1409H696V0Z"/></g>
<g transform="translate(318.78,571.20) scale(0.8000,1)"><text font-size="11.2">-</text></g>
<g transform="translate(321.76,572.20) scale(0.8000,1)"><text font-size="11.2">6</text></g>
<g transform="translate(19.90,511.50) rotate(-90) scale(0.9627,0.8700) translate(-1.10,0)"><text font-size="23.3">S</text></g>
<g transform="translate(27.60,496.00) rotate(-90) scale(1.0750,0.8700) translate(-1.30,0)"><text font-size="13.9">ID</text></g>
<g transform="translate(19.90,482.60) rotate(-90) scale(0.9907,0.8700) translate(-0.00,0)"><text font-size="23.3">/I</text></g>
<g transform="translate(27.60,468.60) rotate(-90) scale(0.9880,0.8700) translate(-1.10,0)"><text font-size="13.9">D</text></g>
<g transform="translate(9.00,459.30) rotate(-90) scale(1.0469,0.8700) translate(-0.70,0)"><text font-size="14.0">2</text></g>
<g transform="translate(19.90,450.10) rotate(-90) scale(1.0035,0.8700) translate(-1.70,0)"><text font-size="23.3">[ /Hz]</text><path transform="translate(6.47,0) scale(0.01138,-0.01138)" d="M515 0V1237L197 1010V1180L530 1409H696V0Z"/></g>
<g transform="translate(167.06,616.90) scale(0.8500,1)"><text font-size="25.9">I</text></g>
<g transform="translate(172.97,626.70) scale(0.8571,1)"><text font-size="15.3">D</text></g>
<g transform="translate(188.71,616.90) scale(0.8256,1)"><text font-size="25.9">[A]</text></g>
<g transform="translate(79.22,365.60) scale(0.8100,1)"><text font-size="17.4">W =  0 μm, L = 20 μm</text><path transform="translate(36.25,0) scale(0.00850,-0.00850)" d="M515 0V1237L197 1010V1180L530 1409H696V0Z"/></g>
<g transform="translate(78.52,389.60) scale(0.8246,1)"><text font-size="17.4">V</text></g>
<g transform="translate(87.41,396.20) scale(0.9836,1)"><text font-size="10.2">D</text></g>
<g transform="translate(97.96,389.80) scale(0.8062,1)"><text font-size="17.4">= 0.  V</text><path transform="translate(29.51,0) scale(0.00850,-0.00850)" d="M515 0V1237L197 1010V1180L530 1409H696V0Z"/></g>
<g transform="translate(290.29,364.20) scale(0.8075,1)"><text font-size="21.2" font-weight="bold">(c)</text></g>
<g transform="translate(236.04,546.60) scale(0.8556,1)"><text font-size="21.3">f =  0 Hz</text><path transform="translate(30.19,0) scale(0.01040,-0.01040)" d="M515 0V1237L197 1010V1180L530 1409H696V0Z"/></g>
<rect x="81.50" y="524.20" width="7.6" height="9.4" fill="none" stroke="#000" stroke-width="2.1"/>
<rect x="84.00" y="528.10" width="2.6" height="1.6" fill="#000"/>
<g transform="translate(99.76,532.90) scale(0.8356,1)"><text font-size="12.0">Experiment data</text></g>
<line x1="73.30" y1="543.60" x2="97.50" y2="543.60" stroke="#0B0B84" stroke-width="2.4"/>
<g transform="translate(99.75,547.50) scale(0.8466,1)"><text font-size="12.0">Modified CMF model</text></g>
<rect x="124.70" y="445.50" width="9.4" height="10.6" fill="none" stroke="#000" stroke-width="2.1"/>
<rect x="128.10" y="450.00" width="2.6" height="1.6" fill="#000"/>
<rect x="154.14" y="463.60" width="9.4" height="10.6" fill="none" stroke="#000" stroke-width="2.1"/>
<rect x="157.54" y="468.10" width="2.6" height="1.6" fill="#000"/>
<rect x="167.83" y="472.10" width="9.4" height="10.6" fill="none" stroke="#000" stroke-width="2.1"/>
<rect x="171.23" y="476.60" width="2.6" height="1.6" fill="#000"/>
<rect x="176.84" y="476.50" width="9.4" height="10.6" fill="none" stroke="#000" stroke-width="2.1"/>
<rect x="180.24" y="481.00" width="2.6" height="1.6" fill="#000"/>
<rect x="186.40" y="481.80" width="9.4" height="10.6" fill="none" stroke="#000" stroke-width="2.1"/>
<rect x="189.80" y="486.30" width="2.6" height="1.6" fill="#000"/>
<rect x="215.84" y="492.80" width="9.4" height="10.6" fill="none" stroke="#000" stroke-width="2.1"/>
<rect x="219.24" y="497.30" width="2.6" height="1.6" fill="#000"/>
<rect x="229.53" y="495.70" width="9.4" height="10.6" fill="none" stroke="#000" stroke-width="2.1"/>
<rect x="232.93" y="500.20" width="2.6" height="1.6" fill="#000"/>
<rect x="238.54" y="496.80" width="9.4" height="10.6" fill="none" stroke="#000" stroke-width="2.1"/>
<rect x="241.94" y="501.30" width="2.6" height="1.6" fill="#000"/>
<rect x="248.10" y="497.60" width="9.4" height="10.6" fill="none" stroke="#000" stroke-width="2.1"/>
<rect x="251.50" y="502.10" width="2.6" height="1.6" fill="#000"/>
<rect x="266.67" y="498.10" width="9.4" height="10.6" fill="none" stroke="#000" stroke-width="2.1"/>
<rect x="270.07" y="502.60" width="2.6" height="1.6" fill="#000"/>
<rect x="277.54" y="498.90" width="9.4" height="10.6" fill="none" stroke="#000" stroke-width="2.1"/>
<rect x="280.94" y="503.40" width="2.6" height="1.6" fill="#000"/>
<path d="M101.40 446.70 C103.55 447.40 110.02 449.20 114.30 450.90 C118.58 452.60 122.28 454.70 127.10 456.90 C131.92 459.10 138.92 462.10 143.20 464.10 C147.48 466.10 149.60 467.17 152.80 468.90 C156.00 470.63 159.18 472.63 162.40 474.50 C165.62 476.37 168.88 478.35 172.10 480.10 C175.32 481.85 178.48 483.52 181.70 485.00 C184.92 486.48 187.58 487.62 191.40 489.00 C195.22 490.38 200.78 491.97 204.60 493.30 C208.42 494.63 211.08 495.93 214.30 497.00 C217.52 498.07 220.70 498.90 223.90 499.70 C227.10 500.50 230.28 501.23 233.50 501.80 C236.72 502.37 239.98 502.78 243.20 503.10 C246.42 503.42 249.60 503.55 252.80 503.70 C256.00 503.85 259.18 503.92 262.40 504.00 C265.62 504.08 268.88 504.17 272.10 504.20 C275.32 504.23 278.62 504.23 281.70 504.20 C284.78 504.17 289.12 504.03 290.60 504.00" fill="none" stroke="#0B0B84" stroke-width="2.4" stroke-linejoin="round" stroke-linecap="round"/>
<path d="M243.20 503.10 C244.80 503.20 249.60 503.55 252.80 503.70 C256.00 503.85 259.18 503.92 262.40 504.00 C265.62 504.08 268.88 504.17 272.10 504.20 C275.32 504.23 278.62 504.23 281.70 504.20 C284.78 504.17 289.12 504.03 290.60 504.00" fill="none" stroke="#0B0B84" stroke-width="3.4" stroke-linejoin="round" stroke-linecap="round"/>
<line x1="290.60" y1="501.00" x2="290.60" y2="507.00" stroke="#0B0B84" stroke-width="1.8"/>
<path d="M412.85 563.8v-2.4M412.85 340.5v2.4M433.10 563.8v-4.5M433.10 340.5v4.5M453.35 563.8v-2.4M453.35 340.5v2.4M473.60 563.8v-4.5M473.60 340.5v4.5M493.85 563.8v-2.4M493.85 340.5v2.4M514.10 563.8v-4.5M514.10 340.5v4.5M534.35 563.8v-2.4M534.35 340.5v2.4M554.60 563.8v-4.5M554.60 340.5v4.5M574.85 563.8v-2.4M574.85 340.5v2.4M595.10 563.8v-4.5M595.10 340.5v4.5M615.35 563.8v-2.4M615.35 340.5v2.4M392.6 526.58h2.6M635.6 526.58h-2.6M392.6 489.37h3.8M635.6 489.37h-3.8M392.6 452.15h2.6M635.6 452.15h-2.6M392.6 414.93h3.8M635.6 414.93h-3.8M392.6 377.72h2.6M635.6 377.72h-2.6" stroke="#555" stroke-width="1" fill="none"/>
<path d="M394.0 465.1 L397.4 465.1 L398.1 480.3 L400.1 491.1 L402.8 499.2 L405.5 504.6 L408.2 508.0 L412.3 510.7 L413.6 514.1 L419.0 516.8 L424.4 519.5 L429.8 523.5 L435.2 526.2 L442.0 529.4 L446.0 529.4 L446.0 532.6 L450.0 532.6 L455.7 532.6 L455.7 535.7 L461.4 535.7 L464.4 535.7 L464.4 538.7 L467.5 538.7 L471.0 538.7 L471.0 539.2 L474.5 539.2 L476.7 539.2 L476.7 541.8 L478.9 541.8 L481.1 541.8 L481.1 540.5 L483.3 540.5 L485.5 540.5 L485.5 543.1 L487.7 543.1 L490.8 543.1 L490.8 541.3 L493.8 541.3 L495.8 541.3 L495.8 541.5 L497.7 541.5 L498.4 541.5 L498.4 544.2 L499.0 544.2 L501.6 544.2 L501.6 544.8 L504.3 544.8 L504.6 544.8 L504.6 546.5 L505.0 546.5 L507.1 546.5 L507.1 544.5 L509.1 544.5 L511.2 544.5 L511.2 546.5 L513.2 546.5 L515.8 546.5 L515.8 546.5 L518.3 546.5 L520.3 546.5 L520.3 548.1 L522.4 548.1 L525.0 548.1 L525.0 547.3 L527.5 547.3 L529.5 547.3 L529.5 550.1 L531.6 550.1 L533.7 550.1 L533.7 548.6 L535.7 548.6 L537.7 548.6 L537.7 551.1 L539.7 551.1 L542.8 551.1 L542.8 550.6 L545.9 550.6 L548.5 550.6 L548.5 552.7 L551.0 552.7 L554.0 552.7 L554.0 551.1 L557.1 551.1 L559.7 551.1 L559.7 552.7 L562.2 552.7 L565.1 552.7 L565.1 550.3 L568.0 550.3 L569.0 550.3 L569.0 552.9 L570.0 552.9 L571.5 552.9 L571.5 551.3 L573.1 551.3 L576.7 551.3 L576.7 551.6 L580.3 551.6 L581.0 551.6 L581.0 554.2 L581.8 554.2 L587.1 554.2 L587.1 554.6 L592.5 554.6 L594.0 554.6 L594.0 556.7 L595.6 556.7 L596.6 556.7 L596.6 554.4 L597.6 554.4 L599.2 554.4 L599.2 551.3 L600.7 551.3 L602.8 551.3 L602.8 551.6 L604.8 551.6 L606.8 551.6 L606.8 555.4 L608.9 555.4 L609.9 555.4 L609.9 551.3 L610.9 551.3 L613.5 551.3 L613.5 550.8 L616.0 550.8 L617.0 550.8 L617.0 554.9 L618.1 554.9 L619.1 554.9 L619.1 551.6 L620.1 551.6 L623.7 551.6 L623.7 551.1 L627.3 551.1 L631.5 551.1 L631.5 550.3 L635.6 550.3 L635.6 563.7 L539.7 563.7 L535.7 562.7 L531.6 560.7 L525.4 559.1 L519.3 559.1 L515.2 560.1 L511.1 559.6 L509.1 556.6 L505.0 555.5 L497.3 555.9 L489.4 553.3 L482.4 552.8 L476.3 551.1 L469.3 548.5 L461.4 548.0 L457.0 545.4 L450.0 541.9 L442.0 539.1 L438.0 537.7 L432.5 535.0 L425.8 531.6 L419.0 527.6 L413.6 522.8 L408.2 518.1 L404.8 514.1 L401.5 507.3 L398.8 499.2 L396.7 491.1 L395.0 480.3 L394.0 468.1 L394.0 465.1Z" fill="#000"/>
<path d="M410.0 507.9h3.2v3.2h-3.2zM412.7 510.6h3.2v3.2h-3.2zM412.7 519.9h3.2v3.2h-3.2zM415.8 522.3h3.2v3.2h-3.2zM423.0 527.1h3.2v3.2h-3.2zM425.9 520.0h3.2v3.2h-3.2zM425.9 528.8h3.2v3.2h-3.2zM428.6 520.9h3.2v3.2h-3.2zM431.6 523.0h3.2v3.2h-3.2zM431.6 532.1h3.2v3.2h-3.2zM438.4 527.0h3.2v3.2h-3.2zM438.4 535.0h3.2v3.2h-3.2zM441.6 527.5h3.2v3.2h-3.2zM441.6 537.5h3.2v3.2h-3.2zM444.9 529.9h3.2v3.2h-3.2zM447.7 538.3h3.2v3.2h-3.2zM450.7 539.5h3.2v3.2h-3.2zM455.4 533.6h3.2v3.2h-3.2zM455.4 542.9h3.2v3.2h-3.2zM457.7 533.6h3.2v3.2h-3.2zM457.7 544.0h3.2v3.2h-3.2zM459.9 544.8h3.2v3.2h-3.2zM462.2 534.2h3.2v3.2h-3.2zM464.7 545.9h3.2v3.2h-3.2zM468.1 547.0h3.2v3.2h-3.2zM470.4 537.3h3.2v3.2h-3.2zM470.4 546.5h3.2v3.2h-3.2zM472.6 537.8h3.2v3.2h-3.2zM472.6 547.7h3.2v3.2h-3.2zM475.2 537.7h3.2v3.2h-3.2zM475.2 548.6h3.2v3.2h-3.2zM478.5 541.0h3.2v3.2h-3.2zM481.9 540.3h3.2v3.2h-3.2zM485.4 539.8h3.2v3.2h-3.2zM488.3 542.4h3.2v3.2h-3.2zM488.3 551.8h3.2v3.2h-3.2zM490.7 552.1h3.2v3.2h-3.2zM493.7 540.7h3.2v3.2h-3.2zM495.8 540.1h3.2v3.2h-3.2zM498.7 541.8h3.2v3.2h-3.2zM498.7 552.9h3.2v3.2h-3.2zM501.2 544.0h3.2v3.2h-3.2zM501.2 553.4h3.2v3.2h-3.2zM504.1 543.9h3.2v3.2h-3.2zM510.6 544.9h3.2v3.2h-3.2zM510.6 557.3h3.2v3.2h-3.2zM513.7 558.0h3.2v3.2h-3.2zM516.5 558.4h3.2v3.2h-3.2zM518.6 545.1h3.2v3.2h-3.2zM525.3 546.2h3.2v3.2h-3.2zM528.7 546.4h3.2v3.2h-3.2zM531.6 558.7h3.2v3.2h-3.2zM534.5 547.6h3.2v3.2h-3.2zM541.3 549.4h3.2v3.2h-3.2zM544.2 549.0h3.2v3.2h-3.2zM551.2 551.2h3.2v3.2h-3.2zM557.4 550.9h3.2v3.2h-3.2zM562.3 550.8h3.2v3.2h-3.2zM565.3 549.6h3.2v3.2h-3.2zM570.1 551.2h3.2v3.2h-3.2zM576.2 550.6h3.2v3.2h-3.2zM578.4 549.8h3.2v3.2h-3.2zM585.3 553.7h3.2v3.2h-3.2zM588.0 553.8h3.2v3.2h-3.2zM593.5 553.5h3.2v3.2h-3.2zM597.1 554.6h3.2v3.2h-3.2zM604.1 549.9h3.2v3.2h-3.2zM606.1 551.8h3.2v3.2h-3.2zM610.5 551.6h3.2v3.2h-3.2zM613.6 549.7h3.2v3.2h-3.2zM622.5 550.8h3.2v3.2h-3.2zM624.5 549.8h3.2v3.2h-3.2zM626.8 550.3h3.2v3.2h-3.2zM629.9 549.5h3.2v3.2h-3.2z" fill="#000"/>
<line x1="392.60" y1="340.50" x2="635.60" y2="340.50" stroke="#333" stroke-width="1.2"/>
<line x1="392.60" y1="339.90" x2="392.60" y2="564.60" stroke="#3a3a3a" stroke-width="1.2"/>
<line x1="392.00" y1="563.80" x2="636.40" y2="563.80" stroke="#8a8a8a" stroke-width="1.6"/>
<line x1="635.60" y1="339.90" x2="635.60" y2="564.60" stroke="#909090" stroke-width="1.6"/>
<g transform="translate(380.02,569.70) scale(0.8100,1)"><text font-size="18.5">0</text></g>
<g transform="translate(380.19,495.27) scale(0.8100,1)"><text font-size="18.5">2</text></g>
<g transform="translate(379.86,420.83) scale(0.8100,1)"><text font-size="18.5">4</text></g>
<g transform="translate(380.11,346.40) scale(0.8100,1)"><text font-size="18.5">6</text></g>
<g transform="translate(388.40,583.30) scale(0.7700,1)"><text font-size="19.5">0</text></g>
<g transform="translate(428.94,583.30) scale(0.7700,1)"><text font-size="19.5">5</text></g>
<g transform="translate(464.98,583.30) scale(0.7700,1)"><text font-size="19.5"> 0</text><path transform="translate(0.00,0) scale(0.00952,-0.00952)" d="M515 0V1237L197 1010V1180L530 1409H696V0Z"/></g>
<g transform="translate(505.51,583.30) scale(0.7700,1)"><text font-size="19.5"> 5</text><path transform="translate(0.00,0) scale(0.00952,-0.00952)" d="M515 0V1237L197 1010V1180L530 1409H696V0Z"/></g>
<g transform="translate(546.17,583.30) scale(0.7700,1)"><text font-size="19.5">20</text></g>
<g transform="translate(586.71,583.30) scale(0.7700,1)"><text font-size="19.5">25</text></g>
<g transform="translate(627.28,583.30) scale(0.7700,1)"><text font-size="19.5">30</text></g>
<g transform="translate(397.32,366.00) scale(0.7862,1)"><text font-size="22">V</text></g>
<g transform="translate(407.86,374.20) scale(1.0435,1)"><text font-size="11.5">D</text></g>
<g transform="translate(421.05,366.00) scale(0.7688,1)"><text font-size="22">= 0.  V</text><path transform="translate(37.31,0) scale(0.01074,-0.01074)" d="M515 0V1237L197 1010V1180L530 1409H696V0Z"/></g>
<g transform="translate(612.89,361.20) scale(0.8080,1)"><text font-size="21.2" font-weight="bold">(d)</text></g>
<path d="M510.06 491.0v-1.6M510.06 376.6v1.6M520.52 491.0v-2.6M520.52 376.6v2.6M530.98 491.0v-1.6M530.98 376.6v1.6M541.43 491.0v-2.6M541.43 376.6v2.6M551.89 491.0v-1.6M551.89 376.6v1.6M562.35 491.0v-2.6M562.35 376.6v2.6M572.81 491.0v-1.6M572.81 376.6v1.6M583.27 491.0v-2.6M583.27 376.6v2.6M593.73 491.0v-1.6M593.73 376.6v1.6M604.18 491.0v-2.6M604.18 376.6v2.6M614.64 491.0v-1.6M614.64 376.6v1.6M499.6 476.70h1.6M625.1 476.70h-1.6M499.6 462.40h2.6M625.1 462.40h-2.6M499.6 448.10h1.6M625.1 448.10h-1.6M499.6 433.80h2.6M625.1 433.80h-2.6M499.6 419.50h1.6M625.1 419.50h-1.6M499.6 405.20h2.6M625.1 405.20h-2.6M499.6 390.90h1.6M625.1 390.90h-1.6" stroke="#777" stroke-width="0.9" fill="none"/>
<rect x="499.6" y="376.6" width="125.50" height="114.40" fill="none" stroke="#8c8c8c" stroke-width="1.2"/>
<g transform="translate(486.49,494.40) scale(0.7687,1)"><text font-size="10.2" fill="#222">0.0</text></g>
<g transform="translate(486.49,465.80) scale(0.7744,1)"><text font-size="10.2" fill="#222">0.9</text></g>
<g transform="translate(486.16,437.20) scale(0.7984,1)"><text font-size="10.2" fill="#222"> .8</text><path transform="translate(0.00,0) scale(0.00498,-0.00498)" d="M515 0V1237L197 1010V1180L530 1409H696V0Z" fill="#222"/></g>
<g transform="translate(486.41,408.60) scale(0.7803,1)"><text font-size="10.2" fill="#222">2.7</text></g>
<g transform="translate(486.49,380.00) scale(0.7744,1)"><text font-size="10.2" fill="#222">3.6</text></g>
<g transform="translate(497.43,501.10) scale(0.7600,1)"><text font-size="10.2" fill="#222">0</text></g>
<g transform="translate(518.35,501.10) scale(0.7600,1)"><text font-size="10.2" fill="#222">5</text></g>
<g transform="translate(536.95,501.10) scale(0.7600,1)"><text font-size="10.2" fill="#222"> 0</text><path transform="translate(0.00,0) scale(0.00498,-0.00498)" d="M515 0V1237L197 1010V1180L530 1409H696V0Z" fill="#222"/></g>
<g transform="translate(557.87,501.10) scale(0.7600,1)"><text font-size="10.2" fill="#222"> 5</text><path transform="translate(0.00,0) scale(0.00498,-0.00498)" d="M515 0V1237L197 1010V1180L530 1409H696V0Z" fill="#222"/></g>
<g transform="translate(578.90,501.10) scale(0.7600,1)"><text font-size="10.2" fill="#222">20</text></g>
<g transform="translate(599.81,501.10) scale(0.7600,1)"><text font-size="10.2" fill="#222">25</text></g>
<g transform="translate(620.77,501.10) scale(0.7600,1)"><text font-size="10.2" fill="#222">30</text></g>
<g transform="translate(504.92,390.60) scale(0.7568,1)"><text font-size="11.3" fill="#222">V</text></g>
<g transform="translate(510.08,395.00) scale(0.8667,1)"><text font-size="7.5" fill="#222">D</text></g>
<g transform="translate(517.41,390.60) scale(0.7781,1)"><text font-size="11.3" fill="#222">= 0.  V</text><path transform="translate(19.16,0) scale(0.00552,-0.00552)" d="M515 0V1237L197 1010V1180L530 1409H696V0Z" fill="#222"/></g>
<g transform="translate(549.41,518.30) scale(0.8919,1)"><text font-size="11.3" fill="#222">V</text></g>
<g transform="translate(555.98,523.20) scale(0.7885,1)"><text font-size="7.9" fill="#222">G</text></g>
<g transform="translate(562.64,518.30) scale(0.9508,1)"><text font-size="11.3" fill="#222">[V]</text></g>
<g transform="translate(481.30,486.10) rotate(-90) scale(0.9571,0.9700) translate(-0.10,0)"><text font-size="12" fill="#222">W·R</text></g>
<g transform="translate(485.10,462.70) rotate(-90) scale(1.0000,0.9700) translate(-0.30,0)"><text font-size="7.5" fill="#222">ext</text></g>
<g transform="translate(481.30,448.60) rotate(-90) scale(0.9439,0.9700) translate(-0.80,0)"><text font-size="12" fill="#222">[x 0</text><path transform="translate(9.33,0) scale(0.00586,-0.00586)" d="M515 0V1237L197 1010V1180L530 1409H696V0Z" fill="#222"/></g>
<g transform="translate(474.80,427.40) rotate(-90) scale(1.2703,0.9700) translate(-0.30,0)"><text font-size="7.8" fill="#222">3</text></g>
<g transform="translate(481.30,418.10) rotate(-90) scale(1.0161,0.9700) translate(-0.50,0)"><text font-size="12" fill="#222">cm-Ω]</text></g>
<rect x="499.80" y="414.10" width="2.6" height="2.6" fill="#000"/>
<rect x="500.20" y="429.00" width="2.6" height="2.6" fill="#000"/>
<rect x="500.50" y="444.10" width="2.6" height="2.6" fill="#000"/>
<rect x="500.70" y="451.40" width="2.6" height="2.6" fill="#000"/>
<rect x="500.90" y="457.60" width="2.6" height="2.6" fill="#000"/>
<rect x="500.90" y="460.70" width="2.6" height="2.6" fill="#000"/>
<path d="M502.40 465.50 C502.52 467.07 502.75 472.38 503.10 474.90 C503.45 477.42 503.82 478.83 504.50 480.60 C505.18 482.37 505.85 484.23 507.20 485.50 C508.55 486.77 510.13 487.52 512.60 488.20 C515.07 488.88 516.60 489.28 522.00 489.60 C527.40 489.92 534.50 489.98 545.00 490.10 C555.50 490.22 571.75 490.27 585.00 490.30 C598.25 490.33 617.92 490.30 624.50 490.30" fill="none" stroke="#000" stroke-width="3.0" stroke-linejoin="round" stroke-linecap="round"/>
<g transform="translate(489.03,618.30) scale(0.7485,1)"><text font-size="25.4">V</text></g>
<g transform="translate(501.31,627.30) scale(0.8600,1)"><text font-size="15.3">G</text></g>
<g transform="translate(516.03,618.30) scale(0.7636,1)"><text font-size="25.4">[V]</text></g>
<g transform="translate(353.30,480.70) rotate(-90) scale(1.2283,0.9850) translate(-1.60,0)"><text font-size="19.5">L [μm]</text></g>
<path d="M353.2 495.6V484.3M353.0 495.3L342.6 484.9" stroke="#000" stroke-width="1.1" fill="none"/>
<path d="M341.9 483.5L353.7 482.9V485.3L343.9 485.9Z" fill="#000"/>
</svg>
</body></html>
